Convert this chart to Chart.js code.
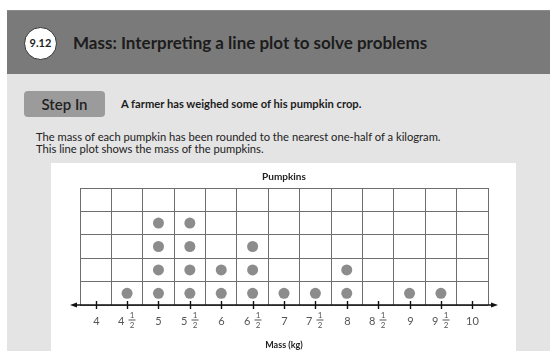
<!DOCTYPE html>
<html>
<head>
<meta charset="utf-8">
<script src="https://cdn.jsdelivr.net/npm/chart.js@4"></script>
<style>
  body { margin: 0; width: 550px; height: 351px; background: #fff; overflow: hidden; font-family: Lato, sans-serif; position: relative; }
  .page { position: absolute; left: 7px; top: 10px; right: 0; bottom: 0; background: #e4e4e4; }
  .head { position: absolute; left: 7px; top: 10px; right: 0; height: 64px; background: #7a7a7a; border-top: 1px solid #8a8a8a; box-sizing: border-box; }
  .badge { position: absolute; left: 24px; top: 27px; width: 33px; height: 33px; border-radius: 50%; background: #fff; border: 1.5px solid #333; box-sizing: border-box; font-size: 11px; font-weight: 700; color: #222; text-align: center; line-height: 30px; }
  .title { position: absolute; left: 73px; top: 33px; font-size: 17px; line-height: 20px; font-weight: 700; color: #1c1c1c; white-space: nowrap; }
  .step { position: absolute; left: 24px; top: 91px; width: 81px; height: 26px; background: #9b9b9b; border-radius: 4px; font-size: 15px; color: #222; text-align: center; line-height: 26px; font-weight: 600; }
  .intro { position: absolute; left: 121px; top: 97px; font-size: 11.2px; line-height: 14px; font-weight: 700; color: #1c1c1c; white-space: nowrap; }
  .txt { position: absolute; left: 36px; top: 131px; font-size: 11.2px; line-height: 12px; color: #222; white-space: nowrap; }
  .panel { position: absolute; left: 51px; top: 163px; width: 465px; height: 188px; background: #fff; }
  canvas { position: absolute; left: 0; top: 0; }
</style>
</head>
<body>
<div class="page"></div>
<div class="head"></div>
<div class="badge">9.12</div>
<div class="title">Mass: Interpreting a line plot to solve problems</div>
<div class="step">Step In</div>
<div class="intro">A farmer has weighed some of his pumpkin crop.</div>
<div class="txt">The mass of each pumpkin has been rounded to the nearest one-half of a kilogram.<br>This line plot shows the mass of the pumpkins.</div>
<div class="panel"><canvas id="plot" width="465" height="188"></canvas></div>
<script>
// masses (kg) along the line and how many pumpkins sit on each
const masses = [4, 4.5, 5, 5.5, 6, 6.5, 7, 7.5, 8, 8.5, 9, 9.5, 10];
const counts = [0, 1, 4, 4, 2, 3, 1, 1, 2, 0, 1, 1, 0];
const tickLabels = ['4', '4 1/2', '5', '5 1/2', '6', '6 1/2', '7', '7 1/2', '8', '8 1/2', '9', '9 1/2', '10'];
const rows = 5;
const chartTitle = 'Pumpkins';
const axisTitle = 'Mass (kg)';

const half = 0.25;
const xMin = masses[0] - half;
const xMax = masses[masses.length - 1] + half;

// one point per pumpkin, stacked up from 1
const dots = [];
masses.forEach((m, i) => {
    for (let k = 1; k <= counts[i]; k++) dots.push({ x: m, y: k });
});

const colLines = [];
for (let v = xMin; v <= xMax + 1e-9; v += 0.5) colLines.push({ value: v });
const rowLines = [];
for (let r = 0; r <= rows; r++) rowLines.push({ value: r + 0.5 });

const linePlot = {
    id: 'linePlot',
    afterDraw(chart) {
        const ctx = chart.ctx;
        const x = chart.scales.x, area = chart.chartArea;
        const y0 = area.bottom;
        ctx.save();
        ctx.strokeStyle = '#111';
        ctx.fillStyle = '#111';
        ctx.lineWidth = 1.6;
        ctx.beginPath();
        ctx.moveTo(area.left - 6, y0);
        ctx.lineTo(area.right + 6, y0);
        ctx.stroke();
        // arrows
        ctx.beginPath();
        ctx.moveTo(area.left - 10, y0);
        ctx.lineTo(area.left - 3, y0 - 2.5);
        ctx.lineTo(area.left - 3, y0 + 2.5);
        ctx.fill();
        ctx.beginPath();
        ctx.moveTo(area.right + 10, y0);
        ctx.lineTo(area.right + 3, y0 - 2.5);
        ctx.lineTo(area.right + 3, y0 + 2.5);
        ctx.fill();

        ctx.lineWidth = 1.4;
        masses.forEach((m, i) => {
            const px = Math.round(x.getPixelForValue(m)) + 0.5;
            ctx.beginPath();
            ctx.moveTo(px, y0 - 4);
            ctx.lineTo(px, y0 + 4);
            ctx.stroke();

            const parts = tickLabels[i].split(' ');
            ctx.fillStyle = '#555';
            ctx.textBaseline = 'middle';
            if (parts.length === 1) {
                ctx.font = '11px Lato, sans-serif';
                ctx.textAlign = 'center';
                ctx.fillText(parts[0], px, y0 + 16);
            } else {
                const [num, den] = parts[1].split('/');
                ctx.font = '11px Lato, sans-serif';
                ctx.textAlign = 'right';
                ctx.fillText(parts[0], px - 3, y0 + 16);
                const fx = px + 4.5;
                ctx.font = '8px Lato, sans-serif';
                ctx.textAlign = 'center';
                ctx.fillText(num, fx, y0 + 10.5);
                ctx.fillText(den, fx, y0 + 20);
                ctx.strokeStyle = '#555';
                ctx.lineWidth = 1;
                ctx.beginPath();
                ctx.moveTo(fx - 3.5, y0 + 15);
                ctx.lineTo(fx + 3.5, y0 + 15);
                ctx.stroke();
                ctx.strokeStyle = '#111';
                ctx.lineWidth = 1.4;
            }
        });

        const cx = (area.left + area.right) / 2;
        ctx.fillStyle = '#222';
        ctx.textAlign = 'center';
        ctx.font = 'bold 9px Lato, sans-serif';
        ctx.fillText(axisTitle, cx, y0 + 40);
        ctx.font = 'bold 10px Lato, sans-serif';
        ctx.fillText(chartTitle, cx, area.top - 11);
        ctx.restore();
    }
};

new Chart(document.getElementById('plot'), {
    type: 'scatter',
    data: {
        datasets: [{
            data: dots,
            backgroundColor: '#8c8c8c',
            borderWidth: 0,
            pointRadius: 5.5
        }]
    },
    options: {
        responsive: false,
        animation: false,
        layout: { padding: { left: 29, right: 28, top: 25, bottom: 46 } },
        plugins: { legend: { display: false }, tooltip: { enabled: false } },
        scales: {
            x: {
                type: 'linear', min: xMin, max: xMax,
                afterBuildTicks: s => { s.ticks = colLines; },
                ticks: { display: false },
                grid: { color: '#6e6e6e', drawTicks: false },
                border: { display: false }
            },
            y: {
                type: 'linear', min: 0.5, max: rows + 0.5,
                afterBuildTicks: s => { s.ticks = rowLines; },
                ticks: { display: false },
                grid: { color: '#6e6e6e', drawTicks: false },
                border: { display: false }
            }
        }
    },
    plugins: [linePlot]
});
</script>
</body>
</html>
